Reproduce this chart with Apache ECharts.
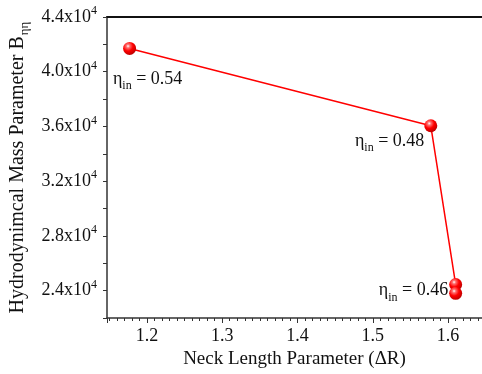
<!DOCTYPE html>
<html>
<head>
<meta charset="utf-8">
<script src="https://cdn.jsdelivr.net/npm/echarts@6/dist/echarts.min.js"></script>
<style>
  html, body { margin: 0; padding: 0; background: #fff; }
  #chart { width: 482px; height: 374px; }
</style>
</head>
<body>
<div id="chart"></div>
<script>
// neck length (ΔR) vs hydrodynamical mass parameter
const neckLength = [1.177, 1.577, 1.610, 1.610]
const massParam = [41700, 36050, 24450, 23800]
const etaLabels = ['0.54', '0.48', '0.46', '']

const FONT = "'Liberation Serif', 'Times New Roman', Times, serif"

const chart = echarts.init(document.getElementById('chart'))

// label placement per point (styling only)
const labelPos = [
  { position: 'bottom', offset: [18, 6] },
  { position: 'left', offset: [5, 15] },
  { position: 'left', offset: [4, 6] },
  { position: 'left', offset: [0, 0] }
]

const points = neckLength.map((x, i) => ({
  value: [x, massParam[i]],
  label: {
    show: etaLabels[i] !== '',
    position: labelPos[i].position,
    offset: labelPos[i].offset,
    distance: 5
  }
}))

const sphere = {
  type: 'radial',
  x: 0.38, y: 0.32, r: 0.75,
  colorStops: [
    { offset: 0, color: '#ffffff' },
    { offset: 0.18, color: '#ff7070' },
    { offset: 0.5, color: '#ff0000' },
    { offset: 1, color: '#b00000' }
  ]
}

const option = {
  backgroundColor: '#fff',
  animation: false,
  textStyle: { fontFamily: FONT },
  grid: {
    left: 107,
    right: 0,
    top: 17,
    bottom: 56,
    containLabel: false,
    outerBoundsMode: 'none'
  },
  xAxis: [
    {
      type: 'value',
      min: 1.147,
      max: 1.645,
      name: 'Neck Length Parameter (ΔR)',
      nameLocation: 'middle',
      nameGap: 30,
      nameTextStyle: { fontFamily: FONT, fontSize: 19, color: '#111' },
      axisLine: { show: true, lineStyle: { color: '#333', width: 1.5 } },
      axisTick: { show: true, inside: false, length: 5, lineStyle: { color: '#333' } },
      minorTick: { show: true, splitNumber: 10, length: 3, lineStyle: { color: '#333' } },
      splitLine: { show: false },
      axisLabel: {
        fontFamily: FONT, fontSize: 18, color: '#111', margin: 9,
        showMinLabel: false, showMaxLabel: false,
        formatter: v => v.toFixed(1)
      }
    },
    {
      type: 'value',
      position: 'top',
      min: 1.147,
      max: 1.645,
      axisLine: { show: true, lineStyle: { color: '#111', width: 2 } },
      axisTick: { show: false },
      axisLabel: { show: false },
      splitLine: { show: false }
    }
  ],
  yAxis: {
    type: 'value',
    min: 22000,
    max: 44000,
    interval: 2000,
    name: '{n|Hydrodynimcal Mass Parameter B}{s|ηη}',
    nameLocation: 'middle',
    nameRotate: 90,
    nameGap: 72,
    nameTextStyle: {
      rich: {
        n: { fontFamily: FONT, fontSize: 20, color: '#111' },
        s: { fontFamily: FONT, fontSize: 13, color: '#111', padding: [12, 0, 0, 1] }
      }
    },
    axisLine: { show: true, lineStyle: { color: '#333', width: 1.5 } },
    axisTick: { show: true, inside: false, length: 4, lineStyle: { color: '#333' } },
    splitLine: { show: false },
    axisLabel: {
      margin: 10,
      formatter: v => (v % 4000 === 0 ? '{b|' + (v / 10000).toFixed(1) + 'x10}{p|4}' : ''),
      rich: {
        b: { fontFamily: FONT, fontSize: 18, color: '#111' },
        p: { fontFamily: FONT, fontSize: 12, color: '#111', padding: [0, 0, 12, 0] }
      }
    }
  },
  series: [
    {
      type: 'line',
      data: points,
      symbol: 'circle',
      symbolSize: 13,
      itemStyle: { color: sphere },
      lineStyle: { color: '#ff0000', width: 1.5 },
      label: {
        formatter: p => '{e|η}{s|in}{e| = ' + etaLabels[p.dataIndex] + '}',
        rich: {
          e: { fontFamily: FONT, fontSize: 18, color: '#111' },
          s: { fontFamily: FONT, fontSize: 12, color: '#111', padding: [14, 0, 0, 0] }
        }
      }
    }
  ]
}

chart.setOption(option)
</script>
</body>
</html>
